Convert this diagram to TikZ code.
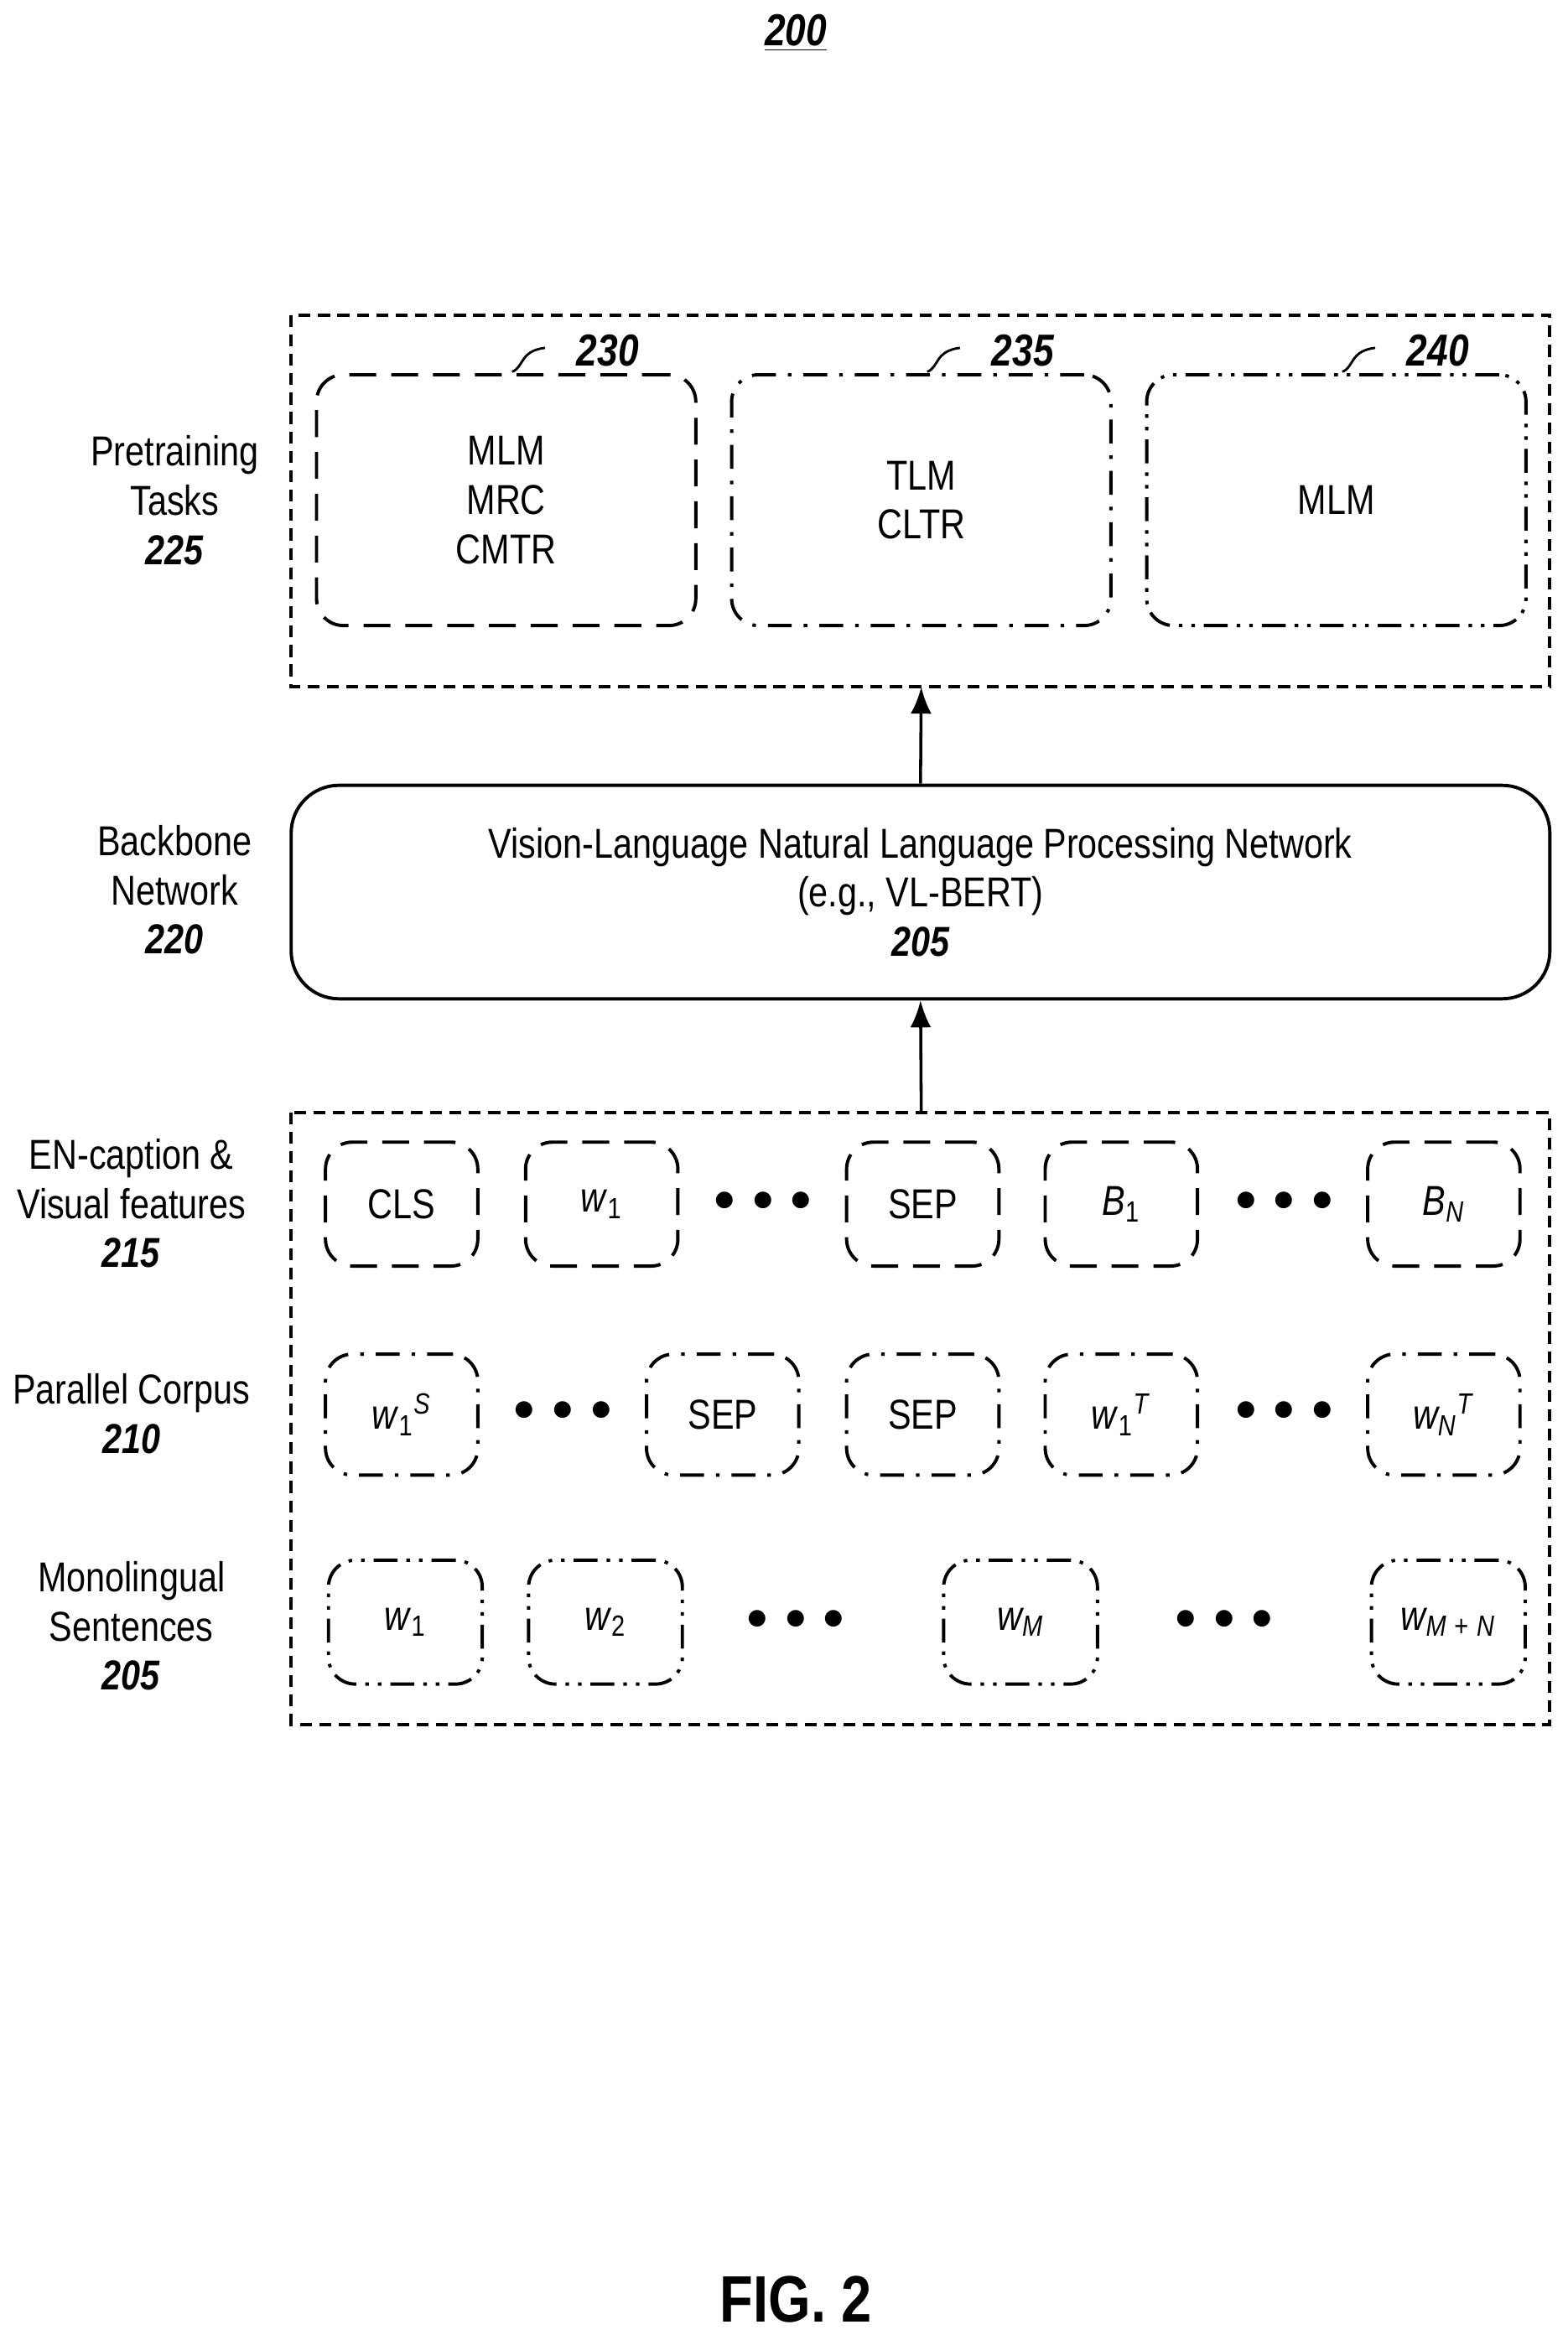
\documentclass[tikz,border=0pt]{standalone}
\usepackage{fontspec}
\setmainfont{Liberation Sans}[FakeStretch=0.83]
\usetikzlibrary{arrows.meta}
\newcommand{\sub}[1]{\textsubscript{#1}}
\newcommand{\sups}[1]{\textsuperscript{\textit{#1}}}
\tikzset{
  box/.style={draw, line width=1.1pt, rounded corners=9pt},
  dsh/.style={dash pattern=on 9pt off 5pt},
  dshd/.style={dash pattern=on 8pt off 4pt on 1.2pt off 4pt},
  dshdd/.style={dash pattern=on 8pt off 3pt on 1.2pt off 3pt on 1.2pt off 3pt},
  frame/.style={draw, line width=1.1pt, dash pattern=on 4pt off 2.5pt},
  txt/.style={font=\fontsize{14}{16.5}\selectfont, align=center},
  ref/.style={font=\fontsize{15}{17}\selectfont\bfseries\itshape},
  dots/.style={font=\fontsize{15}{15}\selectfont},
  arr/.style={-{Latex[length=9pt,width=7pt]}, line width=1pt}
}
\begin{document}
\begin{tikzpicture}[x=0.5pt,y=-0.5pt]
  \useasboundingbox (0,0) rectangle (1050,1564);
  % figure number
  \node[ref] (fignum) at (533,22) {\underline{200}};
  % pretraining tasks
  \draw[frame] (195,211) rectangle (1038,460);
  \node[box,dsh,minimum width=127pt,minimum height=84pt] (t230) at (339,335) {};
  \node[box,dshd,minimum width=127pt,minimum height=84pt] (t235) at (617,335) {};
  \node[box,dshdd,minimum width=127pt,minimum height=84pt] (t240) at (895,335) {};
  \node[txt] at (t230) {MLM\\MRC\\CMTR};
  \node[txt] at (t235) {TLM\\CLTR};
  \node[txt] at (t240) {MLM};
  \foreach \x/\n in {343/230,621/235,899/240}{
    \node[ref] (r\n) at (\x+64,235) {\n};
    \draw[line width=0.8pt] (\x,249) .. controls (\x+8,246) and (\x+5,235) .. (\x+22,233);
  }
  \node[txt] (lab225) at (117,335) {Pretraining\\Tasks\\\textbf{\textit{225}}};
  % backbone
  \node[draw,line width=1.1pt,rounded corners=16pt,minimum width=421.5pt,minimum height=71.5pt,txt] (bb) at (616.5,597.5)
    {Vision-Language Natural Language Processing Network\\(e.g., VL-BERT)\\\textbf{\textit{205}}};
  \node[txt] (lab220) at (117,596) {Backbone\\Network\\\textbf{\textit{220}}};
  % inputs
  \draw[frame] (195,745) rectangle (1038,1155);
  \coordinate (intop) at (617,745);
  \coordinate (tasksbot) at (617,460);
  \draw[arr] (intop) -- (bb.south);
  \draw[arr] (bb.north) -- (tasksbot);
  % row 1
  \foreach \x/\t/\n in {269/CLS/a1,403/{\textit{w}\sub{1}}/a2,618/SEP/a3,751/{\textit{B}\sub{1}}/a4,967/{\textit{B\sub{N}}}/a5}
    \node[box,dsh,minimum width=51pt,minimum height=41.5pt,txt] (\n) at (\x,806.5) {\t};
  \node[dots] (d1) at (511,805) {$\bullet\,\bullet\,\bullet$};
  \node[dots] (d2) at (860,805) {$\bullet\,\bullet\,\bullet$};
  % row 2
  \foreach \x/\t/\n in {269/{\textit{w}\sub{1}\sups{S}}/b1,484/SEP/b2,618/SEP/b3,751/{\textit{w}\sub{1}\sups{T}}/b4,967/{\textit{w\sub{N}}\sups{T}}/b5}
    \node[box,dshd,minimum width=51pt,minimum height=40.5pt,txt] (\n) at (\x,947.5) {\t};
  \node[dots] (d3) at (377,945) {$\bullet\,\bullet\,\bullet$};
  \node[dots] (d4) at (860,945) {$\bullet\,\bullet\,\bullet$};
  % row 3
  \foreach \x/\t/\n in {271.5/{\textit{w}\sub{1}}/c1,405.5/{\textit{w}\sub{2}}/c2,683.5/{\textit{w\sub{M}}}/c3,970/{\textit{w\sub{M}}\sub{ + }\textit{\sub{N}}}/c4}
    \node[box,dshdd,minimum width=51.5pt,minimum height=41.5pt,txt] (\n) at (\x,1086.5) {\t};
  \node[dots] (d5) at (533,1085) {$\bullet\,\bullet\,\bullet$};
  \node[dots] (d6) at (820,1085) {$\bullet\,\bullet\,\bullet$};
  % row labels
  \node[txt] (lab215) at (88,806) {EN-caption \&\\Visual features\\\textbf{\textit{215}}};
  \node[txt] (lab210) at (88,947) {Parallel Corpus\\\textbf{\textit{210}}};
  \node[txt] (lab205) at (88,1089) {Monolingual\\Sentences\\\textbf{\textit{205}}};
  % caption
  \node[font=\fontsize{22}{22}\selectfont\bfseries] (fig) at (533,1540) {FIG. 2};
\end{tikzpicture}
\end{document}
